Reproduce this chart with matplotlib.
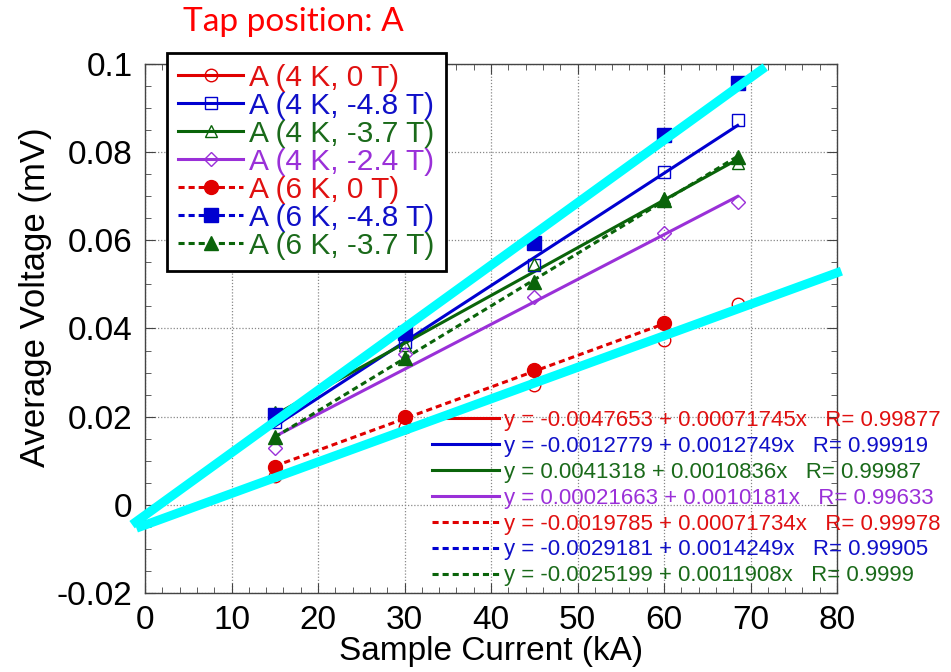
import numpy as np
import matplotlib.pyplot as plt
from matplotlib.ticker import MultipleLocator
from matplotlib.legend_handler import HandlerTuple

plt.rcParams['font.family'] = ['Liberation Sans', 'DejaVu Sans']

# sample current (kA)
x_pts = [15, 30, 45, 60, 68.5]

# average voltage (mV)
a4k_0t = [0.0065, 0.0177, 0.0271, 0.0374, 0.0455]
a4k_48t = [0.0188, 0.0370, 0.0544, 0.0755, 0.0873]
a4k_37t = [0.0210, 0.0362, 0.0547, 0.0695, 0.0776]
a4k_24t = [0.0129, 0.0343, 0.0472, 0.0617, 0.0687]
a6k_0t = [0.0086, 0.0200, 0.0305, 0.0413]
a6k_48t = [0.0204, 0.0390, 0.0594, 0.0839, 0.0957]
a6k_37t = [0.0154, 0.0333, 0.0506, 0.0692, 0.0789]

labels = ['A (4 K, 0 T)', 'A (4 K, -4.8 T)', 'A (4 K, -3.7 T)', 'A (4 K, -2.4 T)',
          'A (6 K, 0 T)', 'A (6 K, -4.8 T)', 'A (6 K, -3.7 T)']

# linear fits shown on the chart
fit_a = ['-0.0047653', '-0.0012779', '0.0041318', '0.00021663',
         '-0.0019785', '-0.0029181', '-0.0025199']
fit_b = ['0.00071745', '0.0012749', '0.0010836', '0.0010181',
         '0.00071734', '0.0014249', '0.0011908']
fit_r = ['0.99877', '0.99919', '0.99987', '0.99633', '0.99978', '0.99905', '0.9999']

# hand-drawn cyan guide lines (endpoints)
cyan1_x = [-1.5, 71.7]
cyan1_y = [-0.0045, 0.0993]
cyan2_x = [-1.0, 80.5]
cyan2_y = [-0.0053, 0.0530]

series = [a4k_0t, a4k_48t, a4k_37t, a4k_24t, a6k_0t, a6k_48t, a6k_37t]
colors = ['#e00000', '#0000d0', '#0a640a', '#9a30d8', '#e00000', '#0000d0', '#0a640a']
txt_colors = ['#e01010', '#1010c8', '#1a6a1a', '#9a30d8', '#e01010', '#1010c8', '#1a6a1a']
markers = ['o', 's', '^', 'D', 'o', 's', '^']
filled = [False, False, False, False, True, True, True]
msizes = [9, 9, 9, 7, 10, 9.5, 10]

fig = plt.figure(figsize=(9.51, 6.72), dpi=100)
ax = fig.add_axes([0.1525, 0.1176, 0.7277, 0.7872])

handles = []
fit_lines = []
for i, ys in enumerate(series):
    xs = np.array(x_pts[:len(ys)])
    xr = np.array([xs.min(), xs.max()])
    ls = '-' if not filled[i] else (0, (2.0, 1.3))
    ln, = ax.plot(xr, float(fit_a[i]) + float(fit_b[i]) * xr, color=colors[i],
                  lw=2.2, linestyle=ls, zorder=3)
    if filled[i]:
        mk, = ax.plot(xs, ys, linestyle='none', marker=markers[i], ms=msizes[i],
                      color=colors[i], zorder=4)
    else:
        mk, = ax.plot(xs, ys, linestyle='none', marker=markers[i], ms=msizes[i],
                      mfc='none', mec=colors[i], mew=1.0, zorder=4)
    handles.append((ln, mk))
    fit_lines.append(ln)

ax.plot(cyan1_x, cyan1_y, color='#00ffff', lw=6.5, solid_capstyle='butt', zorder=6, clip_on=False)
ax.plot(cyan2_x, cyan2_y, color='#00ffff', lw=6.5, solid_capstyle='butt', zorder=6, clip_on=False)

ax.set_xlim(0, 80)
ax.set_ylim(-0.02, 0.1)
ax.xaxis.set_major_locator(MultipleLocator(10))
ax.xaxis.set_minor_locator(MultipleLocator(2))
ax.yaxis.set_minor_locator(MultipleLocator(0.005))
ax.set_yticks([-0.02, 0, 0.02, 0.04, 0.06, 0.08, 0.1])
ax.set_yticklabels(['-0.02', '0', '0.02', '0.04', '0.06', '0.08', '0.1'])
ax.tick_params(which='both', direction='in', top=True, right=True, labelsize=24,
               color='#444444')
ax.tick_params(which='major', length=7)
ax.tick_params(axis='x', which='major', pad=9)
ax.tick_params(axis='y', which='major', pad=9)
ax.tick_params(which='minor', length=4)
for s in ax.spines.values():
    s.set_color('#444444')
    s.set_linewidth(1.0)
ax.grid(True, which='major', color='#888888', linestyle=(0, (1, 1.5)), lw=0.9)

ax.set_xlabel('Sample Current (kA)', fontsize=24, labelpad=0)
ax.set_ylabel('Average Voltage (mV)', fontsize=25, labelpad=4)
ax.yaxis.set_label_coords(-0.135, 0.56)

fig.text(183 / 951, 1 - 22 / 672, 'Tap position: A', color='#ff0000', fontsize=24,
         family=['Lato', 'DejaVu Sans'], va='center', ha='left')

leg = ax.legend(handles, labels, handler_map={tuple: HandlerTuple(ndivide=1)},
                loc='upper left', bbox_to_anchor=(167 / 951, 1 - 53 / 672),
                bbox_transform=fig.transFigure, fontsize=21.5, numpoints=1,
                handlelength=2.2, handletextpad=0.2, labelspacing=0.0,
                borderpad=0.36, borderaxespad=0, fancybox=False, framealpha=1,
                edgecolor='black')
leg.get_frame().set_linewidth(2)
leg.set_zorder(10)
for t, c in zip(leg.get_texts(), txt_colors):
    t.set_color(c)
ax.add_artist(leg)

fit_labels = ['y = %s + %sx   R= %s' % (a, b, r) for a, b, r in zip(fit_a, fit_b, fit_r)]
leg2 = ax.legend(fit_lines, fit_labels, loc='upper left',
                 bbox_to_anchor=(432 / 951, 1 - 410 / 672), bbox_transform=fig.transFigure,
                 fontsize=16, frameon=False, handlelength=3.0, handletextpad=0.25,
                 labelspacing=0.22, borderpad=0, borderaxespad=0)
for t, c in zip(leg2.get_texts(), txt_colors):
    t.set_color(c)

fig.savefig('out.png', dpi=100)
